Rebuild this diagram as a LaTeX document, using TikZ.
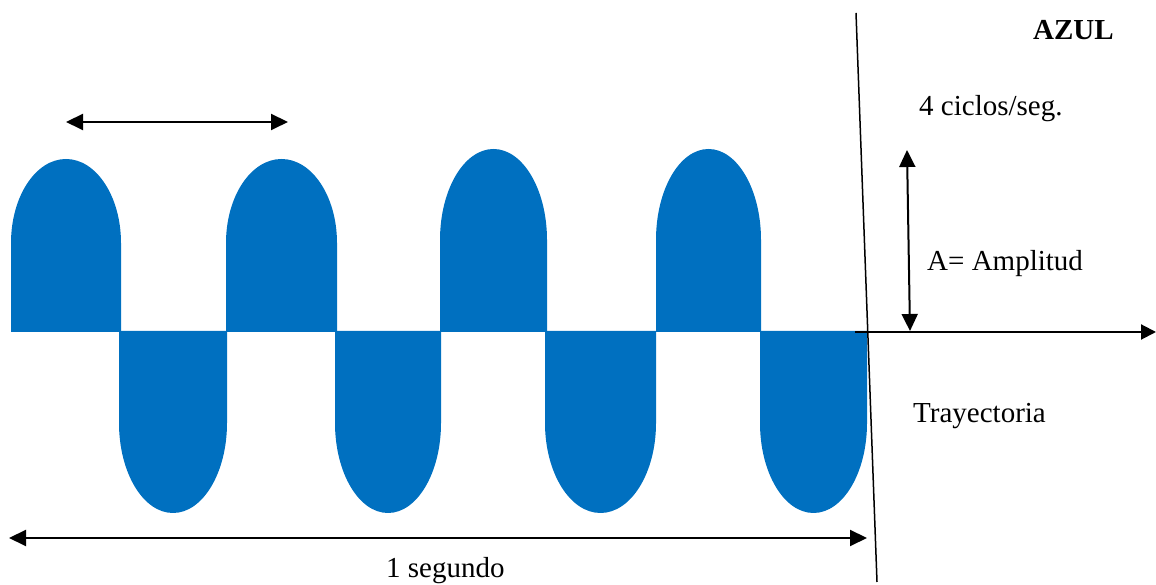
\documentclass[tikz,border=0pt]{standalone}
\usepackage{fontspec}
\setmainfont{Liberation Serif}
\usetikzlibrary{arrows.meta}
\definecolor{wave}{RGB}{0,112,192}
\tikzset{
  lobe/.style={fill=wave},
  darrow/.style={line width=2pt,{Triangle[length=17pt,width=16pt]}-{Triangle[length=17pt,width=16pt]}},
  sarrow/.style={line width=2pt,-{Triangle[length=15pt,width=15pt]}},
  lbl/.style={inner sep=0pt,anchor=base west,font=\fontsize{29}{33}\selectfont}
}
\begin{document}
\begin{tikzpicture}[x=1pt,y=1pt]
\useasboundingbox (0,0) rectangle (1156,585);
% upper lobes
\fill[lobe] (11,253) -- (11,342) arc[start angle=180,end angle=0,x radius=55,y radius=84] -- (121,253) -- cycle;
\fill[lobe] (226,253) -- (226,342) arc[start angle=180,end angle=0,x radius=55.5,y radius=84] -- (337,253) -- cycle;
\fill[lobe] (440,253) -- (440,345) arc[start angle=180,end angle=0,x radius=53.5,y radius=91] -- (547,253) -- cycle;
\fill[lobe] (656,253) -- (656,345) arc[start angle=180,end angle=0,x radius=52.5,y radius=91] -- (761,253) -- cycle;
% lower lobes
\fill[lobe] (119,254) -- (119,162) arc[start angle=180,end angle=360,x radius=54,y radius=90] -- (227,254) -- cycle;
\fill[lobe] (335,254) -- (335,162) arc[start angle=180,end angle=360,x radius=53,y radius=90] -- (441,254) -- cycle;
\fill[lobe] (545,254) -- (545,162) arc[start angle=180,end angle=360,x radius=55.5,y radius=90] -- (656,254) -- cycle;
\fill[lobe] (760,254) -- (760,162) arc[start angle=180,end angle=360,x radius=53.5,y radius=90] -- (867,254) -- cycle;
% coordinates
\coordinate (vtop) at (856,572);
\coordinate (vbot) at (877,3);
\coordinate (axL) at (855,253);
\coordinate (axR) at (1156,253);
\coordinate (amT) at (907,435);
\coordinate (amB) at (910,254);
\coordinate (perL) at (66,463);
\coordinate (perR) at (288,463);
\coordinate (secL) at (9,47);
\coordinate (secR) at (867,47);
% lines
\draw[line width=1.5pt] (vtop) -- (vbot);
\draw[sarrow] (axL) -- (axR);
\draw[darrow] (amT) -- (amB);
\draw[darrow] (perL) -- (perR);
\draw[darrow] (secL) -- (secR);
% labels
\node[lbl,font=\fontsize{29}{33}\selectfont\bfseries] (azul) at (1033,545) {AZUL};
\node[lbl] (ciclos) at (919,469) {4 ciclos/seg.};
\node[lbl] (amp) at (927,314) {A= Amplitud};
\node[lbl] (tray) at (913,162) {Trayectoria};
\node[lbl] (seg) at (386,7) {1 segundo};
\end{tikzpicture}
\end{document}
